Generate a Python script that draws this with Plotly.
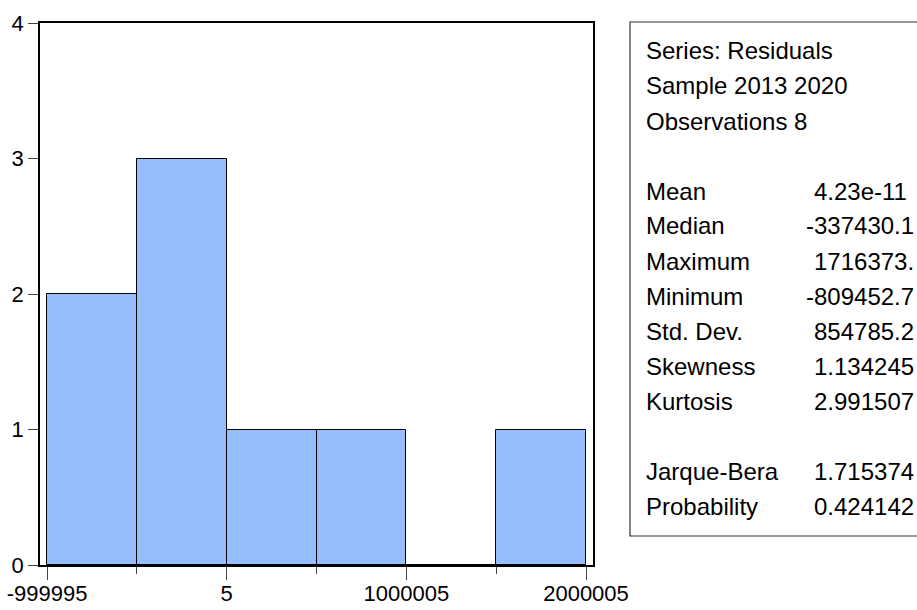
import plotly.graph_objects as go

# Histogram of residuals (bin counts) and descriptive statistics
bin_start = -999995
bin_width = 500000
counts = [2, 3, 1, 1, 0, 1]
x_tick_vals = [-999995, 5, 1000005, 2000005]
x_tick_text = ["-999995", "5", "1000005", "2000005"]
minor_tick_vals = [-499995, 500005, 1500005]
y_tick_vals = [0, 1, 2, 3, 4]

header_lines = ["Series: Residuals", "Sample 2013 2020", "Observations 8"]
stat_names = ["Mean", "Median", "Maximum", "Minimum", "Std. Dev.", "Skewness", "Kurtosis"]
stat_values = ["4.23e-11", "-337430.1", "1716373.", "-809452.7", "854785.2", "1.134245", "2.991507"]
test_names = ["Jarque-Bera", "Probability"]
test_values = ["1.715374", "0.424142"]

W, H = 917, 610
ML, MR, MT, MB = 40, 324, 23, 45
PW, PH = W - ML - MR, H - MT - MB

FONT = "Liberation Sans, Arial, sans-serif"
BAR_COLOR = "#96BEFF"

centers = [bin_start + bin_width * (i + 0.5) for i in range(len(counts))]


def px_x(px):
    return (px - ML) / PW


def px_y(py):
    return 1 - (py - MT) / PH


fig = go.Figure()
fig.add_trace(go.Bar(
    x=centers,
    y=counts,
    width=[bin_width] * len(counts),
    marker=dict(color=BAR_COLOR, line=dict(color="black", width=1)),
    showlegend=False,
))

annotations = []


def add_text(text, px, py, anchor="left"):
    annotations.append(dict(
        text=text, x=px_x(px), y=px_y(py), xref="paper", yref="paper",
        xanchor=anchor, yanchor="middle", showarrow=False,
        font=dict(family=FONT, size=24, color="black"),
    ))


label_x = 644
value_x = 812
minus_w = 8
line_step = 35
y0 = 51

row = 0
for line in header_lines:
    add_text(line, label_x, y0 + row * line_step)
    row += 1
row += 1
for name, val in zip(stat_names, stat_values):
    py = y0 + row * line_step
    add_text(name, label_x, py)
    add_text(val, value_x - (minus_w if val.startswith("-") else 0), py)
    row += 1
row += 1
for name, val in zip(test_names, test_values):
    py = y0 + row * line_step
    add_text(name, label_x, py)
    add_text(val, value_x, py)
    row += 1

fig.add_shape(
    type="rect", xref="paper", yref="paper",
    x0=px_x(630), x1=px_x(925), y0=px_y(22), y1=px_y(536),
    line=dict(color="#333333", width=1.2), fillcolor="rgba(0,0,0,0)",
)

fig.update_layout(
    template="none",
    width=W, height=H,
    margin=dict(l=ML, r=MR, t=MT, b=MB, pad=0),
    paper_bgcolor="white", plot_bgcolor="white",
    bargap=0,
    annotations=annotations,
    font=dict(family=FONT, size=22, color="black"),
    xaxis=dict(
        automargin=False,
        range=[-1038950, 2038960],
        tickmode="array", tickvals=x_tick_vals, ticktext=x_tick_text,
        ticks="outside", ticklen=13, tickwidth=1, tickcolor="#444444",
        ticklabelstandoff=-5,
        minor=dict(tickmode="array", tickvals=minor_tick_vals, ticks="outside",
                   ticklen=7, tickwidth=1, tickcolor="#444444", showgrid=False),
        showgrid=False, zeroline=False,
        showline=True, linecolor="black", linewidth=1.5, mirror=True,
        tickfont=dict(family=FONT, size=22, color="black"),
        fixedrange=True,
    ),
    yaxis=dict(
        automargin=False,
        range=[0, 4],
        tickmode="array", tickvals=y_tick_vals,
        ticks="outside", ticklen=10, tickwidth=1, tickcolor="#444444",
        showgrid=False, zeroline=False,
        showline=True, linecolor="black", linewidth=1.5, mirror=True,
        tickfont=dict(family=FONT, size=22, color="black"),
        fixedrange=True,
    ),
)

fig.write_html("out.html")
